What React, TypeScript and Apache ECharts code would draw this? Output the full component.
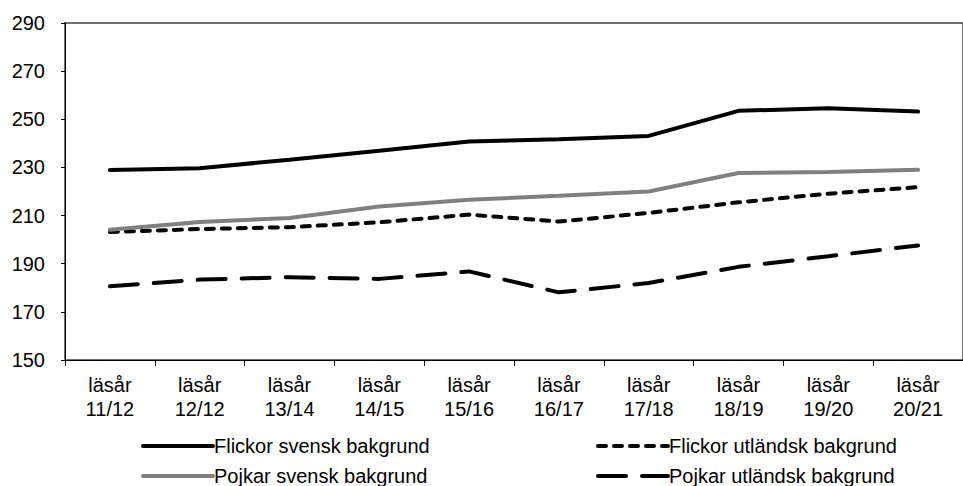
import React, { useEffect, useRef } from "react";
import * as echarts from "echarts";

const categories = [
  "läsår\n11/12",
  "läsår\n12/12",
  "läsår\n13/14",
  "läsår\n14/15",
  "läsår\n15/16",
  "läsår\n16/17",
  "läsår\n17/18",
  "läsår\n18/19",
  "läsår\n19/20",
  "läsår\n20/21",
];

const flickorSvensk = [228.9, 229.7, 233.2, 236.9, 240.8, 241.7, 243.1, 253.5, 254.6, 253.2];
const flickorUtlandsk = [203.2, 204.4, 205.2, 207.2, 210.4, 207.5, 211.1, 215.5, 219.1, 221.8];
const pojkarSvensk = [204.1, 207.3, 209.0, 213.8, 216.6, 218.2, 220.0, 227.7, 228.1, 229.0];
const pojkarUtlandsk = [180.6, 183.4, 184.4, 183.7, 186.8, 178.1, 182.0, 188.7, 193.1, 197.6];

const yTicks = [150, 170, 190, 210, 230, 250, 270, 290];

const FONT = "'Liberation Sans', Arial, sans-serif";

const DOTTED = [8, 8];
const LONGDASH = [28, 16];

export default function App() {
  const ref = useRef<HTMLDivElement>(null);

  useEffect(() => {
    if (!ref.current) return;
    const chart = echarts.init(ref.current, undefined, { renderer: "svg" });

    const mkLegend = (name: string, left: number, top: number, color: string, type: any) => ({
      show: true,
      data: [name],
      left,
      top,
      orient: "horizontal",
      itemWidth: 70,
      itemHeight: 20,
      itemGap: 0,
      padding: 0,
      itemStyle: { color: "transparent", borderColor: "transparent", borderWidth: 0, opacity: 0 },
      lineStyle: { color, width: 4, type, cap: "round", opacity: 1 },
      textStyle: {
        fontFamily: FONT,
        fontSize: 20,
        color: "#000",
        lineHeight: 20,
        padding: [0, 0, 0, -4],
      },
      selectedMode: false,
    });

    chart.setOption({
      animation: false,
      backgroundColor: "#fff",
      grid: {
        left: 65,
        top: 23,
        right: -12,
        bottom: 126,
        show: true,
        borderColor: "#404040",
        borderWidth: 1.5,
        backgroundColor: "transparent",
      },
      legend: [
        mkLegend("Flickor svensk bakgrund", 141, 436, "#000", "solid"),
        mkLegend("Flickor utländsk bakgrund", 596, 436, "#000", DOTTED),
        mkLegend("Pojkar svensk bakgrund", 141, 466, "#808080", "solid"),
        mkLegend("Pojkar utländsk bakgrund", 596, 466, "#000", LONGDASH),
      ],
      xAxis: {
        type: "category",
        data: categories,
        boundaryGap: true,
        axisLine: { show: true, lineStyle: { color: "#000", width: 1 } },
        axisTick: { show: true, length: 6, inside: false, lineStyle: { color: "#000" } },
        axisLabel: {
          interval: 0,
          fontFamily: FONT,
          fontSize: 20,
          lineHeight: 24,
          color: "#000",
          margin: 13,
        },
        splitLine: { show: false },
      },
      yAxis: {
        type: "value",
        min: 150,
        max: 290,
        axisLine: { show: true, lineStyle: { color: "#000", width: 1 } },
        axisTick: { show: true, length: 4, inside: false, customValues: yTicks, lineStyle: { color: "#000" } },
        axisLabel: {
          customValues: yTicks,
          fontFamily: FONT,
          fontSize: 20,
          color: "#000",
          margin: 20,
        },
        splitLine: { show: false },
      },
      series: [
        {
          name: "Flickor svensk bakgrund",
          type: "line",
          data: flickorSvensk,
          symbol: "none",
          lineStyle: { color: "#000", width: 4, cap: "round" },
          itemStyle: { color: "#000" },
        },
        {
          name: "Flickor utländsk bakgrund",
          type: "line",
          data: flickorUtlandsk,
          symbol: "none",
          lineStyle: { color: "#000", width: 4, type: DOTTED, cap: "round" },
          itemStyle: { color: "#000" },
        },
        {
          name: "Pojkar svensk bakgrund",
          type: "line",
          data: pojkarSvensk,
          symbol: "none",
          lineStyle: { color: "#808080", width: 4, cap: "round" },
          itemStyle: { color: "#808080" },
        },
        {
          name: "Pojkar utländsk bakgrund",
          type: "line",
          data: pojkarUtlandsk,
          symbol: "none",
          lineStyle: { color: "#000", width: 4, type: LONGDASH, cap: "round" },
          itemStyle: { color: "#000" },
        },
      ],
    });

    return () => chart.dispose();
  }, []);

  return (
    <div
      ref={ref}
      style={{ position: "fixed", left: 0, top: 0, width: 963, height: 486, background: "#fff" }}
    />
  );
}
